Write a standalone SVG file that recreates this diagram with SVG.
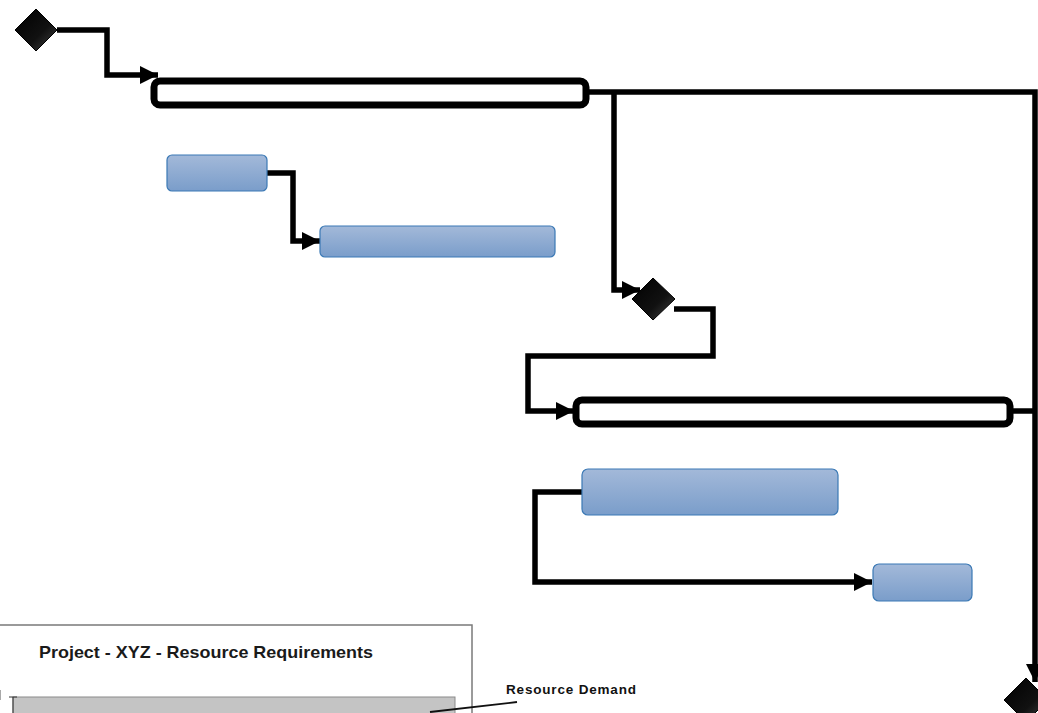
<svg xmlns="http://www.w3.org/2000/svg" width="1038" height="713" viewBox="0 0 1038 713">
<style>
.conn{fill:none;stroke:#000;stroke-width:5.5;stroke-linejoin:miter}
.bar{fill:#fff;stroke:#000;stroke-width:7}
.task{fill:url(#blue);stroke:#3b79b5;stroke-width:1.2}
.ms{fill:url(#dark);stroke:#000;stroke-width:1}
</style>
<defs>
<linearGradient id="blue" x1="0" y1="0" x2="0" y2="1"><stop offset="0" stop-color="#a3b9d9"/><stop offset="1" stop-color="#7a9dca"/></linearGradient>
<linearGradient id="dark" x1="0" y1="0" x2="1" y2="1"><stop offset="0" stop-color="#000"/><stop offset="0.6" stop-color="#111"/><stop offset="1" stop-color="#444"/></linearGradient>
<marker id="ah" markerUnits="userSpaceOnUse" markerWidth="19" markerHeight="18" refX="18" refY="9" orient="auto"><path d="M0,0 L18,9 L0,18 Z" fill="#000"/></marker>
</defs>
<g id="connectors">
<path class="conn" d="M57,30 H107 V75 H158" marker-end="url(#ah)"/>
<path class="conn" d="M589,92 H1035 V682" marker-end="url(#ah)"/>
<path class="conn" d="M614,92 V290 H640" marker-end="url(#ah)"/>
<path class="conn" d="M674,309 H713 V356 H528 V411 H574" marker-end="url(#ah)"/>
<path class="conn" d="M1012,411 H1035"/>
<path class="conn" d="M267,173 H293 V241 H320" marker-end="url(#ah)"/>
<path class="conn" d="M582,492 H535 V582 H872" marker-end="url(#ah)"/>
</g>
<g id="ms1"><polygon class="ms" points="36,9 57,30 36,51 15,30"/></g>
<g id="bar1"><rect class="bar" x="154" y="81" width="432" height="24" rx="6"/></g>
<g id="taskA"><rect class="task" x="167" y="155" width="100" height="36" rx="5"/></g>
<g id="taskB"><rect class="task" x="320" y="226" width="235" height="31" rx="5"/></g>
<g id="ms2"><polygon class="ms" points="653,278 675,299 653,320 632,299"/></g>
<g id="bar2"><rect class="bar" x="576" y="400" width="434" height="24" rx="6"/></g>
<g id="taskC"><rect class="task" x="582" y="469" width="256" height="46" rx="6"/></g>
<g id="taskD"><rect class="task" x="873" y="564" width="99" height="37" rx="6"/></g>
<g id="ms3"><polygon class="ms" points="1026,678 1048,700 1026,722 1004,700"/></g>
<g id="chart">
<rect x="-5" y="625" width="477" height="100" fill="#fff" stroke="#7a7a7a" stroke-width="1.5"/>
<text x="39" y="658" font-family="Liberation Sans, Arial, sans-serif" font-size="17" font-weight="bold" fill="#1a1a1a" textLength="334" lengthAdjust="spacingAndGlyphs">Project - XYZ - Resource Requirements</text>
<rect x="13" y="697" width="442" height="30" fill="#c4c4c4" stroke="#8a8a8a" stroke-width="1"/>
<path d="M9,697 H17 M13,697 V713" stroke="#333" stroke-width="1" fill="none"/>
<path d="M0,690 V700" stroke="#555" stroke-width="1"/>
<path d="M430,712 L517,702" stroke="#111" stroke-width="1.8" fill="none"/>
<text x="506" y="694" font-family="Liberation Sans, Arial, sans-serif" font-size="13.5" font-weight="bold" fill="#111" textLength="130" lengthAdjust="spacing">Resource Demand</text>
</g>
</svg>
